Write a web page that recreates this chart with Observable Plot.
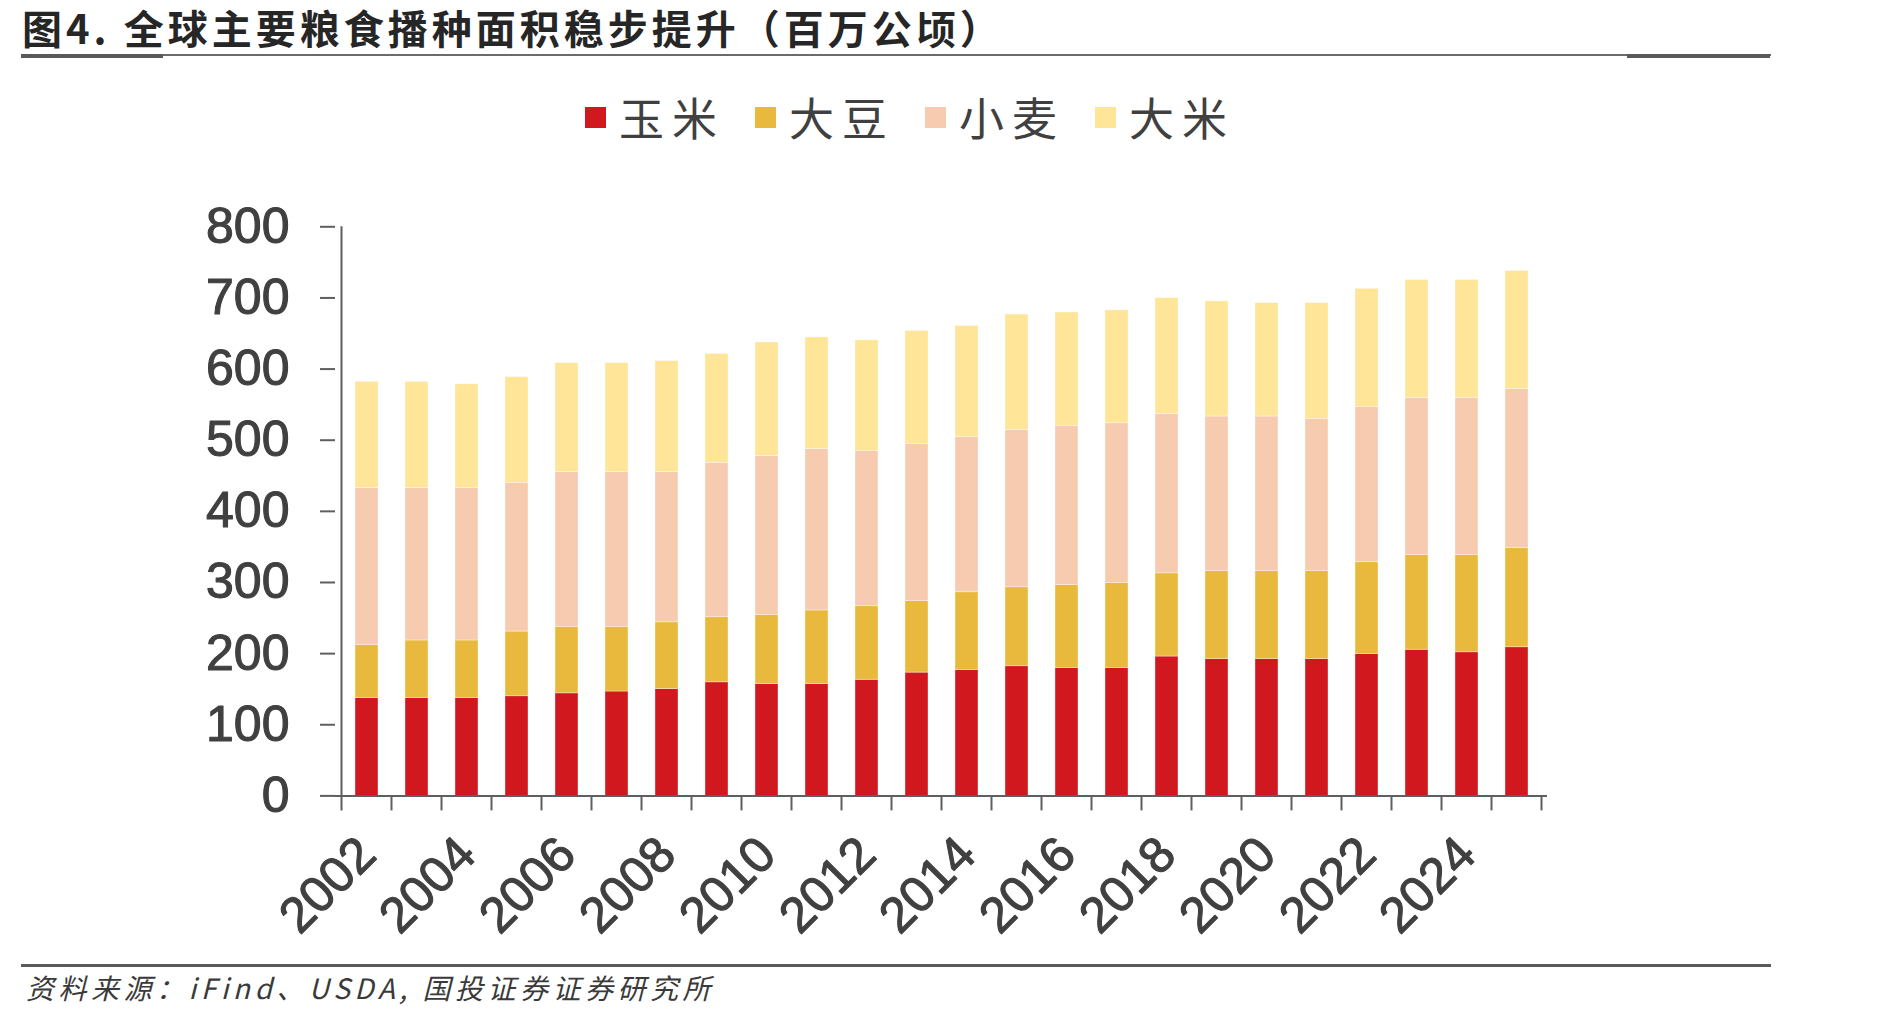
<!DOCTYPE html>
<html lang="zh-CN">
<head>
<meta charset="utf-8">
<script src="https://cdn.jsdelivr.net/npm/d3@7"></script>
<script src="https://cdn.jsdelivr.net/npm/@observablehq/plot@0.6"></script>
<style>
  html, body { margin: 0; padding: 0; background: #fff; }
  #page { position: relative; width: 1889px; height: 1019px; overflow: hidden; font-family: "Noto Sans CJK SC", sans-serif; }
  #chart { position: absolute; left: 0; top: 0; }
  #title { position: absolute; left: 22px; top: 4px; width: 1100px; height: 48px; font-size: 40px; line-height: 46px; font-weight: 700; letter-spacing: 4px; color: #262626; white-space: nowrap; }
  .rule { position: absolute; background: #5a5a5a; }
  #legend { position: absolute; left: 585px; top: 89px; display: flex; align-items: center; }
  .item { display: flex; align-items: center; margin-right: 30px; }
  .swatch { width: 21px; height: 21px; margin-right: 13px; }
  .label { font-size: 45px; line-height: 56px; letter-spacing: 8px; color: #404040; }
  #source { position: absolute; left: 26px; top: 970px; width: 900px; font-size: 28px; line-height: 34px; font-style: italic; letter-spacing: 4.5px; color: #3a3a3a; white-space: nowrap; }
</style>
</head>
<body>
<div id="page">
  <div id="chart"></div>
  <div id="title">图4. 全球主要粮食播种面积稳步提升（百万公顷）</div>
  <div class="rule" style="left:21px;top:54px;width:1750px;height:2px;background:#6b6b6b"></div>
  <div class="rule" style="left:21px;top:54px;width:142px;height:4px"></div>
  <div class="rule" style="left:1627px;top:54px;width:143px;height:4px"></div>
  <div id="legend"></div>
  <div class="rule" style="left:21px;top:964px;width:1750px;height:3px"></div>
  <div id="source">资料来源：iFind、USDA, 国投证券证券研究所</div>
</div>
<script>
// Sown area of the main grain crops, million hectares
const years = ["2002","2003","2004","2005","2006","2007","2008","2009","2010","2011","2012","2013",
               "2014","2015","2016","2017","2018","2019","2020","2021","2022","2023","2024","2025"];
const labelYears = ["2002","2004","2006","2008","2010","2012","2014","2016","2018","2020","2022","2024"];
const yTicks = [0, 100, 200, 300, 400, 500, 600, 700, 800];

const crops = ["玉米", "大豆", "小麦", "大米"];
const cropColors = ["#D0181E", "#E8B93C", "#F7CBB0", "#FEE598"];

const corn  = [137.6,137.6,137.6,140.1,144.2,146.7,150.2,159.7,157.2,157.2,163.2,173.3,
               176.8,182.3,179.8,179.8,195.9,192.4,192.4,192.4,199.4,205.4,201.9,209.0];
const soy   = [74.4,80.9,80.9,90.9,93.4,90.9,93.9,91.5,97.0,103.5,103.5,100.5,
               109.5,111.0,116.6,119.6,117.0,123.6,123.6,123.6,129.1,133.2,136.7,139.6];
const wheat = [221.0,214.5,214.5,209.0,217.5,217.5,211.0,216.9,223.5,227.0,218.0,221.0,
               218.0,221.1,223.5,224.5,224.1,217.4,217.4,213.9,218.0,221.0,221.0,223.5];
const rice  = [149.0,149.0,145.6,148.7,153.2,153.2,156.2,153.2,159.7,156.8,155.7,158.7,
               156.2,162.2,159.7,158.7,162.7,161.8,159.3,162.8,166.3,165.7,165.7,165.8];

const series = [corn, soy, wheat, rice];
const rows = crops.flatMap((crop, i) => years.map((year, j) => ({year, crop, value: series[i][j]})));

const axisColor = "#5f5f5f";
const textColor = "#404040";

const plot = Plot.plot({
  width: 1889,
  height: 960,
  marginLeft: 335,
  marginRight: 342,
  marginTop: 226.3,
  marginBottom: 164.6,
  style: {fontFamily: '"Liberation Sans", Arial, sans-serif', fontSize: "50px", color: textColor, background: "transparent", overflow: "visible"},
  x: {type: "band", domain: years, paddingInner: 0.545, paddingOuter: 0.2725, label: null},
  y: {domain: [0, 800], label: null},
  color: {domain: crops, range: cropColors},
  marks: [
    Plot.barY(rows, {x: "year", y: "value", fill: "crop", z: "crop", order: crops,
                     stroke: "#fff", strokeWidth: 0.8, strokeOpacity: 0.45}),
    Plot.ruleY([0], {stroke: axisColor, strokeWidth: 2}),
    Plot.axisY({ticks: yTicks, tickSize: 15, tickPadding: 31, tickFormat: d => String(d),
                stroke: axisColor, strokeWidth: 2, fill: textColor, fontSize: 50,
                textStroke: textColor, textStrokeWidth: 1.1, label: null}),
    Plot.axisX({ticks: labelYears, tickSize: 0, tickRotate: -45, tickPadding: 50,
                fill: textColor, fontSize: 50, textStroke: textColor, textStrokeWidth: 1.1, label: null})
  ]
});

document.getElementById("chart").appendChild(plot);

// Vertical axis line and tick marks on the category boundaries
const xs = plot.scale("x");
const ys = plot.scale("y");
const gap = xs.step - xs.bandwidth;
const edges = years.map(y => xs.apply(y) - gap / 2);
edges.push(edges[edges.length - 1] + xs.step);
const y0 = ys.apply(0);
const yTop = ys.apply(800);
const tickLen = 15;

const g = d3.select(plot).append("g").attr("stroke", axisColor).attr("stroke-width", 2);
g.append("line").attr("x1", edges[0]).attr("x2", edges[0]).attr("y1", yTop).attr("y2", y0 + tickLen);
g.selectAll("line.edge").data(edges.slice(1)).join("line")
  .attr("class", "edge")
  .attr("x1", d => d).attr("x2", d => d)
  .attr("y1", y0).attr("y2", y0 + tickLen);

// Legend
const legend = d3.select("#legend");
crops.forEach((crop, i) => {
  const item = legend.append("div").attr("class", "item");
  item.append("div").attr("class", "swatch").style("background", cropColors[i]);
  item.append("div").attr("class", "label").text(crop);
});
</script>
</body>
</html>
